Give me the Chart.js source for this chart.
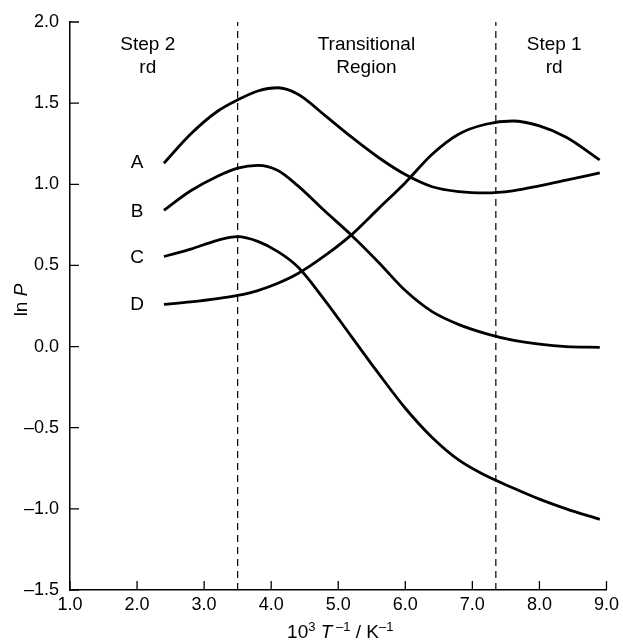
<!DOCTYPE html>
<html>
<head>
<meta charset="utf-8">
<script src="https://cdn.jsdelivr.net/npm/chart.js@4/dist/chart.umd.min.js"></script>
<style>
  html, body { margin: 0; padding: 0; background: #fff; }
  #wrap { width: 623px; height: 642px; }
</style>
</head>
<body>
<div id="wrap"><canvas id="chart" width="623" height="642"></canvas></div>
<script>
// sample positions along 10^3 T^-1 (shared by all four curves)
const xs = [2.4, 2.8, 3.2, 3.5, 3.8, 4.1, 4.4, 4.8, 5.2, 5.6, 6.0, 6.4, 6.8, 7.2, 7.6, 8.0, 8.4, 8.9];

// ln P values
const curveA = [1.13, 1.31, 1.45, 1.52, 1.575, 1.595, 1.555, 1.425, 1.29, 1.165, 1.06, 0.985, 0.955, 0.947, 0.96, 0.99, 1.025, 1.07];
const curveB = [0.84, 0.96, 1.05, 1.10, 1.117, 1.085, 0.99, 0.835, 0.685, 0.52, 0.345, 0.215, 0.135, 0.08, 0.04, 0.015, 0.0, -0.005];
const curveC = [0.555, 0.60, 0.655, 0.677, 0.648, 0.585, 0.49, 0.285, 0.06, -0.165, -0.38, -0.56, -0.70, -0.795, -0.87, -0.94, -1.0, -1.065];
const curveD = [0.26, 0.275, 0.295, 0.315, 0.345, 0.39, 0.45, 0.56, 0.69, 0.85, 1.01, 1.185, 1.31, 1.37, 1.39, 1.36, 1.29, 1.15];

const curveNames = ['A', 'B', 'C', 'D'];
const curveLabelX = [2.0, 2.0, 2.0, 2.0];
const curveLabelY = [1.13, 0.83, 0.55, 0.26];

// region boundaries (dashed) and their captions
const dividerX = [3.5, 7.35];
const regionLines = [['Step 2', 'rd'], ['Transitional', 'Region'], ['Step 1', 'rd']];
const regionX = [2.16, 5.42, 8.22];
const regionY = [1.86, 1.72];

const xMin = 1.0, xMax = 9.0, xStep = 1.0;
const yMin = -1.5, yMax = 2.0, yStep = 0.5;

const FONT = '"Liberation Sans", Arial, Helvetica, sans-serif';

function toPoints(values) {
    return values.map((v, i) => ({ x: xs[i], y: v }));
}

function curveDataset(label, values) {
    return {
        label: label,
        data: toPoints(values),
        borderColor: '#000',
        borderWidth: 2.8,
        pointRadius: 0,
        cubicInterpolationMode: 'monotone',
        fill: false
    };
}

function dividerDataset(x) {
    return {
        label: 'divider',
        data: [{ x: x, y: yMin }, { x: x, y: yMax }],
        borderColor: '#000',
        borderWidth: 1.2,
        borderDash: [7, 5],
        pointRadius: 0,
        tension: 0,
        fill: false
    };
}

function fmt(v) {
    return v.toFixed(1).replace('-', '\u2013');
}

// draw a run of text pieces with different fonts / baselines
function drawRich(ctx, parts, cx, cy) {
    let total = 0;
    parts.forEach(p => { ctx.font = p.font; total += ctx.measureText(p.text).width; });
    let x = cx - total / 2;
    parts.forEach(p => {
        ctx.font = p.font;
        ctx.fillText(p.text, x, cy - (p.rise || 0));
        x += ctx.measureText(p.text).width;
    });
}

const overlay = {
    id: 'overlay',
    afterDraw(chart) {
        const { ctx, chartArea } = chart;
        const xs_ = chart.scales.x;
        const ys_ = chart.scales.y;
        ctx.save();
        ctx.strokeStyle = '#000';
        ctx.fillStyle = '#000';
        ctx.lineWidth = 1.3;

        // inward tick marks
        ctx.beginPath();
        xs_.ticks.forEach(t => {
            const px = xs_.getPixelForValue(t.value);
            ctx.moveTo(px, chartArea.bottom);
            ctx.lineTo(px, chartArea.bottom - 9);
        });
        ys_.ticks.forEach(t => {
            const py = ys_.getPixelForValue(t.value);
            ctx.moveTo(chartArea.left, py);
            ctx.lineTo(chartArea.left + 9, py);
        });
        ctx.stroke();

        ctx.textAlign = 'center';
        ctx.textBaseline = 'middle';
        ctx.font = '19px ' + FONT;

        // region captions
        regionLines.forEach((lines, i) => {
            lines.forEach((txt, j) => {
                ctx.fillText(txt, xs_.getPixelForValue(regionX[i]), ys_.getPixelForValue(regionY[j]));
            });
        });

        // curve letters
        curveNames.forEach((n, i) => {
            ctx.fillText(n, xs_.getPixelForValue(curveLabelX[i]), ys_.getPixelForValue(curveLabelY[i]));
        });

        // x axis title: 10^3 T^-1 / K^-1
        ctx.textAlign = 'left';
        ctx.textBaseline = 'alphabetic';
        const big = '19px ' + FONT;
        const small = '13px ' + FONT;
        const ital = 'italic 19px ' + FONT;
        const cx = (chartArea.left + chartArea.right) / 2;
        drawRich(ctx, [
            { text: '10', font: big },
            { text: '3', font: small, rise: 7 },
            { text: ' ', font: big },
            { text: 'T', font: ital },
            { text: ' \u20131', font: small, rise: 7 },
            { text: ' / K', font: big },
            { text: '\u20131', font: small, rise: 7 }
        ], cx + 2, 638);

        // y axis title: ln P
        ctx.translate(27, 300);
        ctx.rotate(-Math.PI / 2);
        drawRich(ctx, [
            { text: 'ln ', font: big },
            { text: 'P', font: ital }
        ], 0, 0);

        ctx.restore();
    }
};

new Chart(document.getElementById('chart'), {
    type: 'line',
    data: {
        datasets: [
            curveDataset('A', curveA),
            curveDataset('B', curveB),
            curveDataset('C', curveC),
            curveDataset('D', curveD),
            dividerDataset(dividerX[0]),
            dividerDataset(dividerX[1])
        ]
    },
    options: {
        responsive: false,
        animation: false,
        events: [],
        layout: {
            padding: { left: 0, right: 16, top: 22, bottom: 0 }
        },
        plugins: {
            legend: { display: false },
            tooltip: { enabled: false }
        },
        scales: {
            x: {
                type: 'linear',
                min: xMin,
                max: xMax,
                afterFit: scale => { scale.height = 52; },
                ticks: {
                    stepSize: xStep,
                    color: '#000',
                    padding: 4,
                    maxRotation: 0,
                    font: { family: FONT, size: 18 },
                    callback: v => fmt(v)
                },
                grid: { drawOnChartArea: false, drawTicks: false },
                border: { display: true, color: '#000', width: 1.5 }
            },
            y: {
                type: 'linear',
                min: yMin,
                max: yMax,
                afterFit: scale => { scale.width = 70; },
                ticks: {
                    stepSize: yStep,
                    color: '#000',
                    padding: 11,
                    font: { family: FONT, size: 18 },
                    callback: v => fmt(v)
                },
                grid: { drawOnChartArea: false, drawTicks: false },
                border: { display: true, color: '#000', width: 1.5 }
            }
        }
    },
    plugins: [overlay]
});
</script>
</body>
</html>
